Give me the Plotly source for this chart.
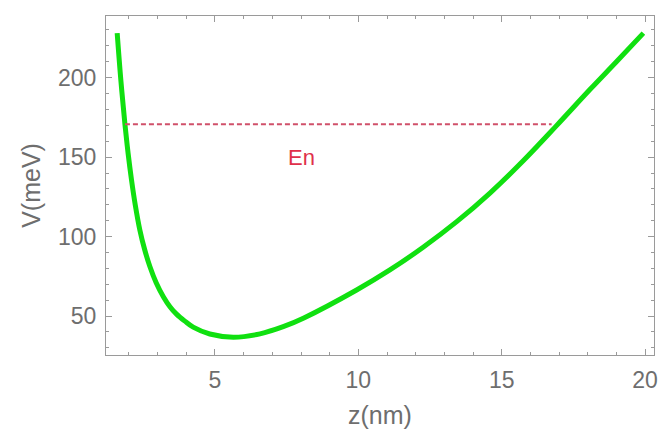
import plotly.graph_objects as go

# Potential curve V(z)
z_nm = [1.59, 1.72, 1.86, 1.97, 2.09, 2.22, 2.38, 2.55, 2.73, 2.95, 3.20, 3.43,
        3.66, 3.95, 4.24, 4.82, 5.64, 6.57, 7.38, 8.10, 9.94, 11.10, 12.26,
        13.43, 14.59, 15.75, 16.92, 18.10, 19.00, 19.94]
v_mev = [228, 198, 170.7, 152.5, 135.6, 120, 104.2, 91.7, 81.2, 71, 62.2, 55.9,
         51.2, 46.8, 43.0, 38.7, 36.7, 38.8, 43.3, 48.8, 66.4, 79, 93.3,
         109.4, 127.4, 147.7, 170, 193, 210, 228]

# Energy level En
en_z = [1.86, 16.74]
en_v = [170.7, 170.7]
en_label = "En"
en_label_pos = (8.0, 149.5)

x_ticks = [5, 10, 15, 20]
y_ticks = [50, 100, 150, 200]

FONT = "Liberation Sans, Arial, sans-serif"
GRAY = "#6e6e6e"
FRAME = "#9a9a9a"

fig = go.Figure()
fig.add_trace(go.Scatter(x=z_nm, y=v_mev, mode="lines",
                         line=dict(color="#10e010", width=5, shape="spline",
                                   smoothing=1.0),
                         showlegend=False, hoverinfo="skip"))
fig.add_trace(go.Scatter(x=en_z, y=en_v, mode="lines",
                         line=dict(color="#d0506a", width=2, dash="5px,3px"),
                         showlegend=False, hoverinfo="skip"))
fig.add_annotation(x=en_label_pos[0], y=en_label_pos[1], text=en_label,
                   showarrow=False, font=dict(color="#e0304a", size=22, family=FONT))

axis_common = dict(
    showline=True, linecolor=FRAME, linewidth=1, mirror="allticks",
    ticks="inside", ticklen=6, tickcolor=FRAME, tickwidth=1,
    showgrid=False, zeroline=False, automargin=False,
    ticklabeloverflow="allow",
    tickfont=dict(size=23, color=GRAY, family=FONT),
)

fig.update_xaxes(range=[1.2, 20.31], tickvals=x_ticks,
                 minor=dict(ticks="inside", ticklen=3, dtick=1, tick0=0,
                            tickcolor=FRAME, showgrid=False),
                 ticklabelstandoff=4,
                 title=dict(text="z(nm)", standoff=14,
                            font=dict(size=25, color=GRAY, family=FONT)),
                 **axis_common)
fig.update_yaxes(range=[25.5, 238.8], tickvals=y_ticks,
                 minor=dict(ticks="inside", ticklen=3, dtick=10, tick0=0,
                            tickcolor=FRAME, showgrid=False),
                 ticklabelstandoff=4,
                 title=dict(text="V(meV)", standoff=10,
                            font=dict(size=25, color=GRAY, family=FONT)),
                 **axis_common)

fig.update_layout(width=661, height=442,
                  margin=dict(l=106, r=7, t=16, b=87),
                  paper_bgcolor="white", plot_bgcolor="white")

# remove the page's default body margin so the figure fills the window exactly
fig.write_html("out.html",
               config={"displayModeBar": False},
               post_script="document.body.style.margin='0';"
                           "document.body.style.overflow='hidden';")
